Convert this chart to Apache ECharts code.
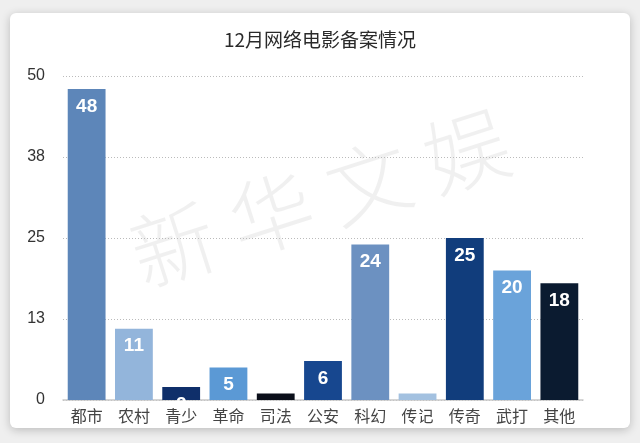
<!DOCTYPE html>
<html>
<head>
<meta charset="utf-8">
<script src="https://cdn.jsdelivr.net/npm/echarts@6/dist/echarts.min.js"></script>
<style>
  html, body { margin: 0; padding: 0; background: #efefef; }
  .card {
    position: absolute; left: 10px; top: 13px; width: 620px; height: 415px;
    background: #fff; border-radius: 6px;
    box-shadow: 0 2px 10px rgba(0, 0, 0, 0.22);
  }
  #chart { position: absolute; left: 0; top: 0; width: 640px; height: 443px; }
</style>
</head>
<body>
<div class="card"></div>
<div id="chart"></div>
<script>
  const categories = ['都市', '农村', '青少', '革命', '司法', '公安', '科幻', '传记', '传奇', '武打', '其他']
  const counts = [48, 11, 2, 5, 1, 6, 24, 1, 25, 20, 18]
  const barColors = ['#5d86b9', '#93b5db', '#0f2f6a', '#5b99d5', '#0b0f1a', '#17478f',
    '#6c91c1', '#a3c1e0', '#113d7c', '#6aa3da', '#0b1b30']

  const font = '"Noto Sans CJK SC", "Liberation Sans", sans-serif'

  const chart = echarts.init(document.getElementById('chart'), null, { renderer: 'canvas' })
  chart.setOption({
    backgroundColor: 'transparent',
    animation: false,
    title: {
      text: '12月网络电影备案情况',
      left: 'center',
      top: 25,
      textStyle: { fontFamily: font, fontSize: 19, fontWeight: 'normal', color: '#2a2a2a' }
    },
    graphic: [{
      type: 'text',
      z: -10,
      x: 320,
      y: 198,
      rotation: 0.31,
      style: {
        text: '新 华 文 娱',
        font: '300 84px "Noto Sans CJK SC"',
        fill: 'rgba(0,0,0,0.06)',
        align: 'center',
        verticalAlign: 'middle'
      }
    }],
    grid: { left: 63, right: 57, top: 76, bottom: 43 },
    xAxis: {
      type: 'category',
      data: categories,
      axisTick: { show: false },
      axisLine: { lineStyle: { color: '#c8c8c8', width: 1.5 } },
      axisLabel: { fontFamily: font, fontSize: 16, color: '#444', margin: 8 }
    },
    yAxis: {
      type: 'value',
      min: 0,
      max: 50,
      interval: 12.5,
      axisLine: { show: false },
      axisTick: { show: false },
      axisLabel: {
        fontFamily: '"Liberation Sans", sans-serif',
        fontSize: 16,
        color: '#333',
        margin: 18,
        formatter: v => String(Math.round(v))
      },
      splitLine: { lineStyle: { color: '#bbb', type: [1, 2], width: 1 } }
    },
    series: [{
      type: 'bar',
      data: counts.map((v, i) => ({ value: v, itemStyle: { color: barColors[i] } })),
      barCategoryGap: '20%',
      label: {
        show: true,
        position: 'insideTop',
        distance: 8,
        color: '#fff',
        fontFamily: '"Liberation Sans", sans-serif',
        fontSize: 19,
        fontWeight: 'bold'
      }
    }]
  })
</script>
</body>
</html>
